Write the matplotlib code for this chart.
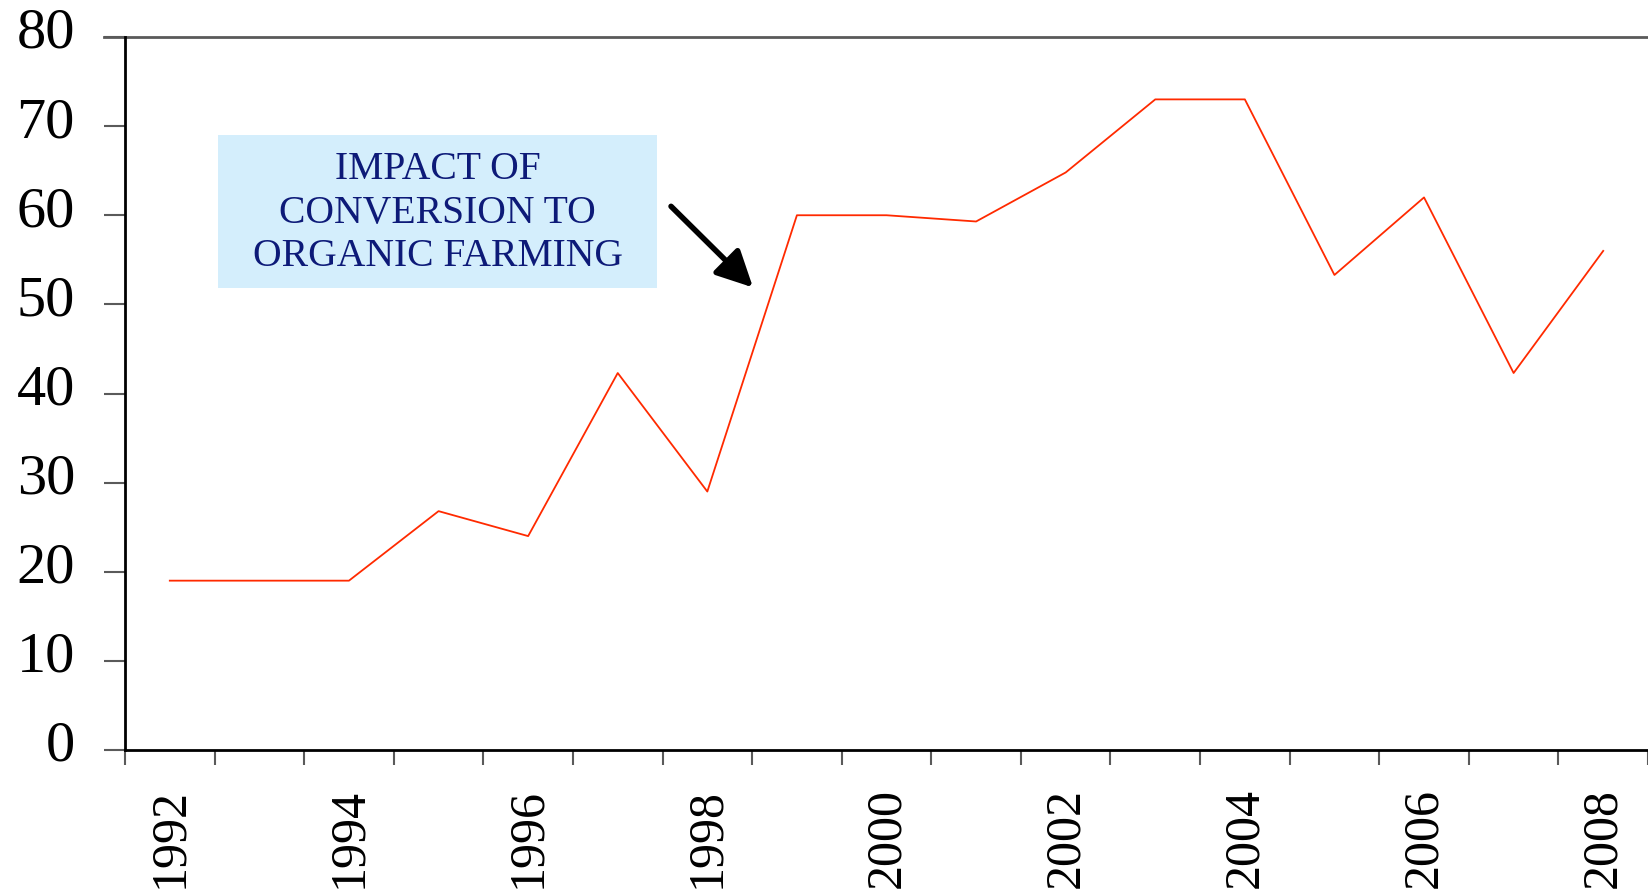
import matplotlib
matplotlib.use('Agg')
import matplotlib.pyplot as plt
import matplotlib.transforms as mtransforms
from matplotlib.patches import Rectangle
import numpy as np

years = list(range(1992, 2009))
values = [19.0, 19.0, 19.0, 26.8, 24.0, 42.3, 29.0, 60.0, 60.0, 59.3,
          64.8, 73.0, 73.0, 53.3, 62.0, 42.3, 56.0]
year_labels = [str(y) for y in years[::2]]
note = 'IMPACT OF\nCONVERSION TO\nORGANIC FARMING'

plt.rcParams['font.family'] = ['Liberation Serif', 'DejaVu Serif']

fig = plt.figure(figsize=(16.48, 8.95), dpi=100)
W, H = 1648, 895
ax = fig.add_axes([125 / W, (H - 751) / H, (W - 125) / W, (751 - 38) / H])

x = np.arange(len(years))
ax.plot(x, values, color='#ff2a00', lw=1.3, zorder=3)

ax.set_xlim(-0.5, 16.35)
ax.set_ylim(0, 80)

# spines
for s in ['top', 'right']:
    ax.spines[s].set_visible(False)
ax.spines['left'].set_linewidth(2)
ax.spines['bottom'].set_linewidth(2)
ax.axhline(80, color='#5a5a5a', lw=2, clip_on=False, zorder=2)
ax.plot([-0.5 - 21 / 90.4, -0.5], [80, 80], color='#5a5a5a', lw=2,
        clip_on=False)

# y ticks
ax.set_yticks(np.arange(0, 81, 10))
ax.tick_params(axis='y', length=15, width=1.5, color='#5a5a5a', pad=21,
               labelsize=42)
offset = mtransforms.ScaledTranslation(0, 0.10, fig.dpi_scale_trans)
for lab in ax.get_yticklabels():
    lab.set_transform(lab.get_transform() + offset)

# x ticks: marks between categories, labels on even years
ax.set_xticks(np.arange(-0.5, 17.0, 1.0), minor=True)
ax.set_xticks(x[::2])
ax.set_xticklabels(year_labels, rotation=90)
ax.tick_params(axis='x', which='major', length=0, pad=27, labelsize=36)
ax.tick_params(axis='x', which='minor', length=11, width=1.5,
               color='#5a5a5a')

# annotation box
ax.add_patch(Rectangle((0.54, 51.8), 4.90, 17.2, facecolor='#d4eefc',
                       edgecolor='none', zorder=1))
ax.text(2.99, 60.36, note, ha='center', va='center', fontsize=28.5,
        color='#0d1a78', linespacing=1.23, zorder=2)
ax.annotate('', xy=(6.51, 51.9), xytext=(5.595, 61.0),
            arrowprops=dict(arrowstyle='-|>', lw=4, color='black',
                            mutation_scale=55, shrinkA=0, shrinkB=0))

fig.savefig('out.png', dpi=100)
